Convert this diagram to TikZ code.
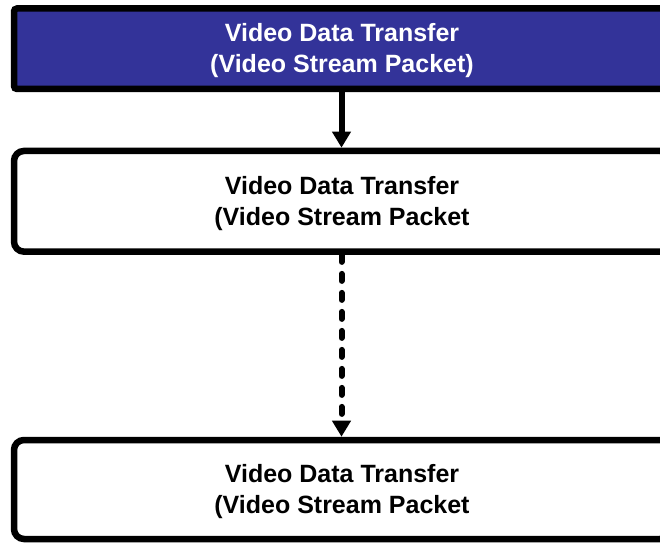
\documentclass[tikz,border=0pt]{standalone}
\usepackage{fontspec}
\setmainfont{Liberation Sans}
\usetikzlibrary{arrows.meta}
\definecolor{cstream}{RGB}{51,51,153}

\begin{document}
\begin{tikzpicture}[x=1pt,y=1pt,>={Triangle[width=18pt,length=16pt]},
  pkt/.style={draw,line width=6.5pt,minimum width=656pt,align=center,
    font=\bfseries\fontsize{25}{31}\selectfont,inner sep=0pt,text height=54pt,text depth=6pt},
  flow/.style={line width=6pt,->}]
 \useasboundingbox (0,0) rectangle (660,543);
 \clip (0,0) rectangle (660,543);
 % ---- packet boxes ----
 \node[pkt,fill=cstream,text=white,rounded corners=3pt,minimum height=80.5pt] (first) at (342,494.25)
   {Video Data Transfer\\(Video Stream Packet)};
 \node[pkt,rounded corners=10pt,minimum height=100.7pt] (second) at (342,341.7)
   {Video Data Transfer\\(Video Stream Packet};
 \node[pkt,rounded corners=10pt,minimum height=99pt] (last) at (342,53.5)
   {Video Data Transfer\\(Video Stream Packet};
 % ---- connectors ----
 \draw[flow] (first.south -| 341.5,0) -- (second.north -| 341.5,0);
 \draw[flow,line cap=round,dash pattern=on 7pt off 12pt] (second.south -| 341.5,0) -- (last.north -| 341.5,0);
\end{tikzpicture}
\end{document}
